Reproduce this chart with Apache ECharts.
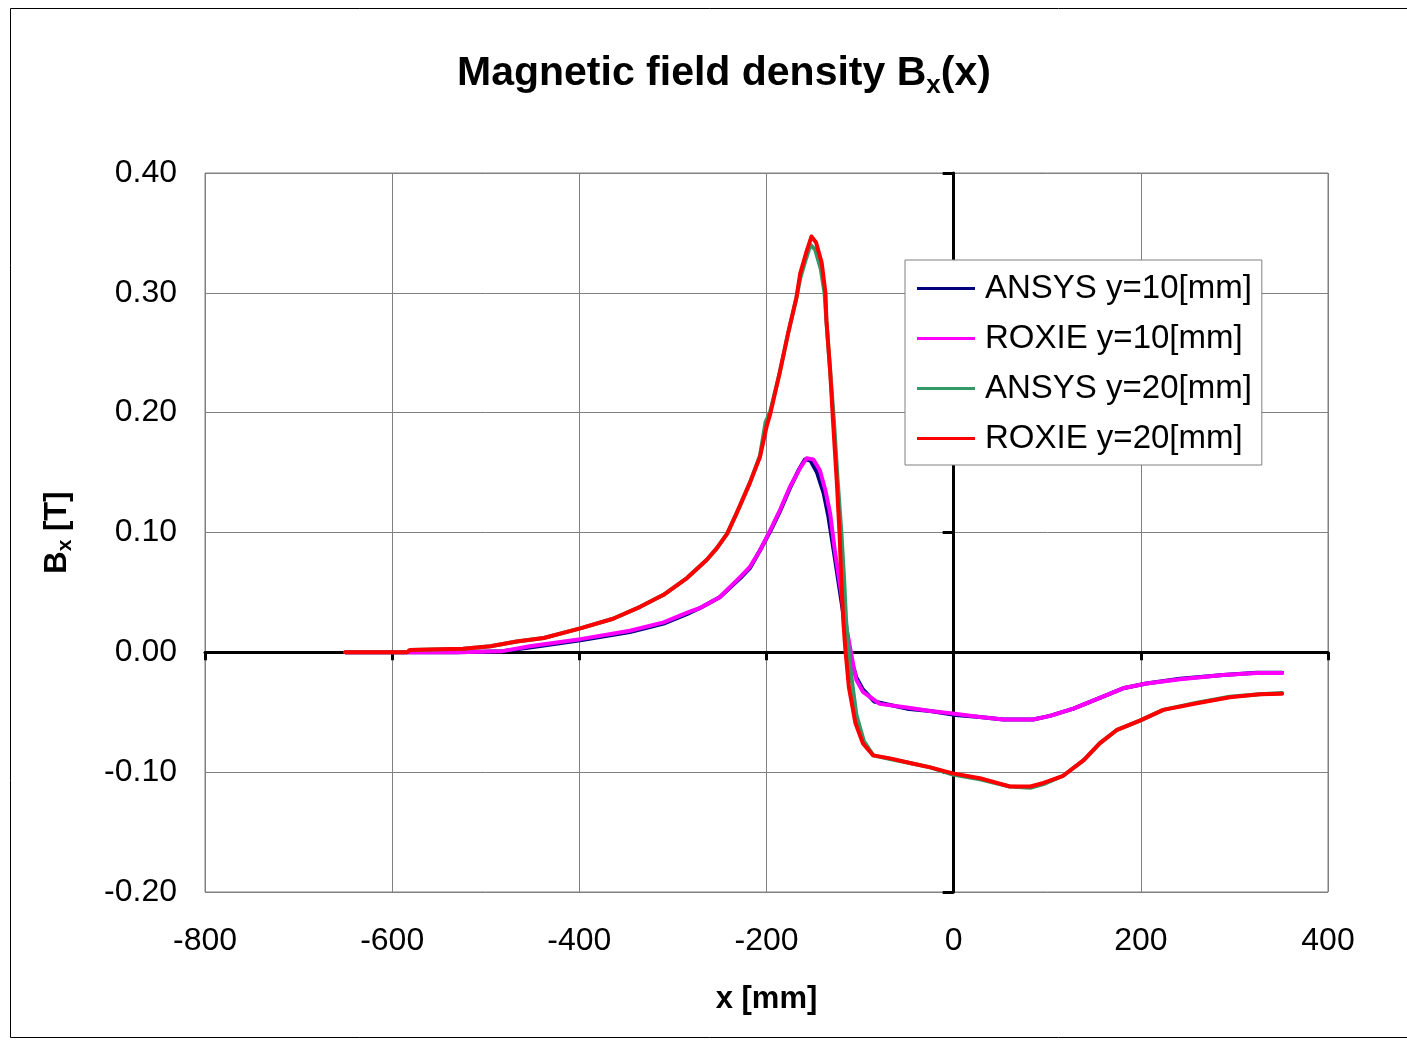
<!DOCTYPE html>
<html>
<head>
<meta charset="utf-8">
<script src="https://cdn.jsdelivr.net/npm/echarts@6/dist/echarts.min.js"></script>
<style>
  html, body { margin: 0; padding: 0; background: #fff; }
  #chart { width: 1407px; height: 1040px; }
</style>
</head>
<body>
<div id="chart"></div>
<script>
// x positions [mm] and Bx values [T]
const ansys10X = [-650, -581, -531, -482, -453, -399, -346, -310, -282, -271, -250, -228, -218, -207, -196, -186, -175, -165, -159, -153, -146, -139, -134, -128, -122, -115, -108, -104, -97, -85, -50, -25, -1, 28, 53, 85, 103, 128, 153, 181, 206, 242, 288, 324, 351]
const ansys10Y = [0, 0, 0, 0.001, 0.004, 0.010, 0.017, 0.024, 0.033, 0.037, 0.046, 0.062, 0.070, 0.085, 0.101, 0.117, 0.137, 0.153, 0.161, 0.160, 0.150, 0.133, 0.114, 0.084, 0.053, 0.017, -0.010, -0.021, -0.031, -0.041, -0.047, -0.049, -0.052, -0.054, -0.056, -0.056, -0.053, -0.047, -0.039, -0.030, -0.026, -0.022, -0.019, -0.017, -0.017]

const roxie10X = [-650, -581, -531, -482, -453, -399, -346, -310, -282, -271, -250, -228, -218, -207, -196, -186, -175, -164, -157, -150, -143, -137, -132, -127, -121, -114, -107, -104, -97, -79, -50, -25, -1, 28, 53, 85, 103, 128, 153, 181, 206, 242, 288, 324, 351]
const roxie10Y = [0, 0, 0, 0.001, 0.005, 0.011, 0.018, 0.025, 0.034, 0.037, 0.046, 0.063, 0.071, 0.085, 0.102, 0.118, 0.138, 0.154, 0.162, 0.161, 0.152, 0.135, 0.116, 0.085, 0.054, 0.018, -0.012, -0.023, -0.033, -0.043, -0.046, -0.049, -0.051, -0.054, -0.056, -0.056, -0.053, -0.047, -0.039, -0.030, -0.026, -0.0225, -0.019, -0.0173, -0.0173]

const ansys20X = [-650, -584, -581, -524, -495, -467, -438, -399, -364, -335, -310, -285, -264, -253, -242, -232, -218, -207, -201, -196, -186, -177, -168, -164, -158, -153, -148, -142, -138, -136, -132, -128, -124, -120, -117, -115, -111, -104, -96, -86, -68, -43, -25, -1, 28, 60, 82, 96, 117, 139, 156, 174, 199, 224, 260, 295, 327, 351]
const ansys20Y = [0, 0, 0.002, 0.003, 0.005, 0.009, 0.012, 0.020, 0.028, 0.038, 0.048, 0.062, 0.077, 0.087, 0.099, 0.116, 0.141, 0.164, 0.192, 0.201, 0.233, 0.266, 0.296, 0.312, 0.328, 0.340, 0.336, 0.320, 0.300, 0.277, 0.235, 0.194, 0.144, 0.100, 0.060, 0.027, -0.010, -0.052, -0.074, -0.086, -0.089, -0.093, -0.096, -0.102, -0.106, -0.112, -0.113, -0.110, -0.103, -0.090, -0.076, -0.065, -0.057, -0.048, -0.042, -0.037, -0.035, -0.034]

const roxie20X = [-650, -584, -581, -524, -495, -467, -438, -399, -364, -335, -310, -285, -264, -253, -242, -232, -218, -207, -200, -196, -186, -177, -168, -164, -157, -152, -147, -141, -137, -136, -132, -129, -125, -122, -120, -118, -116, -114, -112, -105, -97, -86, -68, -43, -25, -1, 28, 60, 82, 96, 117, 139, 156, 174, 199, 224, 260, 295, 327, 351]
const roxie20Y = [0, 0, 0.002, 0.003, 0.005, 0.009, 0.012, 0.020, 0.028, 0.038, 0.048, 0.062, 0.077, 0.087, 0.099, 0.116, 0.141, 0.163, 0.188, 0.199, 0.233, 0.266, 0.296, 0.316, 0.335, 0.347, 0.342, 0.325, 0.300, 0.277, 0.235, 0.194, 0.144, 0.100, 0.060, 0.027, 0.005, -0.012, -0.029, -0.059, -0.076, -0.086, -0.0885, -0.093, -0.096, -0.101, -0.105, -0.112, -0.112, -0.109, -0.103, -0.090, -0.076, -0.065, -0.057, -0.048, -0.0425, -0.0375, -0.035, -0.0345]

const seriesNames = ['ANSYS y=10[mm]', 'ROXIE y=10[mm]', 'ANSYS y=20[mm]', 'ROXIE y=20[mm]']
const seriesColors = ['#000080', '#ff00ff', '#339966', '#ff0000']

const X_MIN = -800, X_MAX = 400, X_STEP = 200
const Y_MIN = -0.2, Y_MAX = 0.4, Y_STEP = 0.1

const FONT = '"Liberation Sans", Arial, sans-serif'

const zip = (xs, ys) => xs.map((x, i) => [x, ys[i]])
const seriesData = [
  zip(ansys10X, ansys10Y),
  zip(roxie10X, roxie10Y),
  zip(ansys20X, ansys20Y),
  zip(roxie20X, roxie20Y),
]

const chart = echarts.init(document.getElementById('chart'), null, { renderer: 'canvas' })

const gray = '#808080'

const option = {
  animation: false,
  backgroundColor: '#fff',
  textStyle: { fontFamily: FONT, color: '#000' },
  title: {
    left: 452,
    top: 46,
    text: '{b|Magnetic field density B}{s|x}{b|(x)}',
    textStyle: {
      rich: {
        b: { fontFamily: FONT, fontSize: 41, fontWeight: 'bold', color: '#000', lineHeight: 46 },
        s: { fontFamily: FONT, fontSize: 26, fontWeight: 'bold', color: '#000', lineHeight: 46, padding: [24, 0, 0, 0] },
      },
    },
  },
  graphic: [
    {
      type: 'rect',
      shape: { x: 10.5, y: 8.5, width: 1500, height: 1029 },
      style: { fill: 'none', stroke: '#000', lineWidth: 1 },
      silent: true,
    },
  ],
  legend: {
    orient: 'vertical',
    left: 905,
    top: 260,
    padding: [12, 10, 10, 12],
    backgroundColor: '#fff',
    borderColor: gray,
    borderWidth: 1,
    icon: 'rect',
    itemWidth: 58,
    itemHeight: 3,
    itemGap: 17,
    textStyle: { fontFamily: FONT, fontSize: 33, color: '#000', padding: [0, 0, 0, 5] },
    data: seriesNames,
    z: 10,
  },
  grid: {
    left: 205,
    right: 79,
    top: 173,
    bottom: 148,
    show: true,
    borderColor: gray,
    borderWidth: 1,
    containLabel: false,
  },
  xAxis: [
    {
      type: 'value',
      min: X_MIN,
      max: X_MAX,
      interval: X_STEP,
      position: 'bottom',
      axisLine: { show: false, onZero: false },
      axisTick: { show: false },
      axisLabel: { fontFamily: FONT, fontSize: 32, color: '#000', margin: 33 },
      splitLine: { show: true, lineStyle: { color: gray, width: 1 } },
      name: 'x [mm]',
      nameLocation: 'middle',
      nameGap: 92,
      nameTextStyle: { fontFamily: FONT, fontSize: 31, fontWeight: 'bold', color: '#000' },
    },
    {
      type: 'value',
      min: X_MIN,
      max: X_MAX,
      interval: X_STEP,
      position: 'bottom',
      axisLine: { show: true, onZero: true, onZeroAxisIndex: 1, lineStyle: { color: '#000', width: 3 } },
      axisTick: { show: true, inside: false, length: 8, lineStyle: { color: '#000', width: 3 } },
      axisLabel: { show: false },
      splitLine: { show: false },
    },
  ],
  yAxis: [
    {
      type: 'value',
      min: Y_MIN,
      max: Y_MAX,
      interval: Y_STEP,
      position: 'left',
      axisLine: { show: false, onZero: false },
      axisTick: { show: false },
      axisLabel: {
        fontFamily: FONT,
        fontSize: 32,
        color: '#000',
        margin: 28,
        padding: [4, 0, 0, 0],
        formatter: (v) => v.toFixed(2),
      },
      splitLine: { show: true, lineStyle: { color: gray, width: 1 } },
      name: '{b|B}{s|x}{b| [T]}',
      nameLocation: 'middle',
      nameRotate: 90,
      nameGap: 130,
      nameTextStyle: {
        rich: {
          b: { fontFamily: FONT, fontSize: 31, fontWeight: 'bold', color: '#000', lineHeight: 36 },
          s: { fontFamily: FONT, fontSize: 21, fontWeight: 'bold', color: '#000', lineHeight: 36, padding: [16, 0, 0, 0] },
        },
      },
    },
    {
      type: 'value',
      min: Y_MIN,
      max: Y_MAX,
      interval: Y_STEP,
      position: 'left',
      axisLine: { show: true, onZero: true, onZeroAxisIndex: 1, lineStyle: { color: '#000', width: 3 } },
      axisTick: { show: true, inside: false, length: 11, lineStyle: { color: '#000', width: 3 } },
      axisLabel: { show: false },
      splitLine: { show: false },
    },
  ],
  series: seriesNames.map((name, i) => ({
    name,
    type: 'line',
    xAxisIndex: 0,
    yAxisIndex: 0,
    data: seriesData[i],
    showSymbol: false,
    symbol: 'none',
    smooth: false,
    lineStyle: { color: seriesColors[i], width: 4, join: 'round', cap: 'round' },
    itemStyle: { color: seriesColors[i] },
    z: 3 + i,
  })),
}

chart.setOption(option)
</script>
</body>
</html>
